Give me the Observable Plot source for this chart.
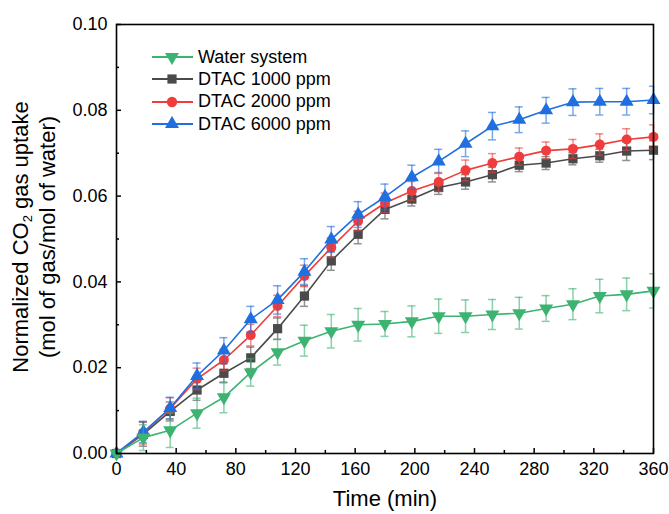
<!DOCTYPE html>
<html>
<head>
<meta charset="utf-8">
<script src="https://cdn.jsdelivr.net/npm/d3@7"></script>
<script src="https://cdn.jsdelivr.net/npm/@observablehq/plot@0.6"></script>
<style>
  html, body { margin: 0; padding: 0; background: #fff; }
  #wrap { position: relative; width: 669px; height: 514px; font-family: "Liberation Sans", Arial, sans-serif; color: #000; }
  #ytitle { position: absolute; left: 34px; top: 237px; width: 420px; transform: translate(-50%, -50%) rotate(-90deg); text-align: center; font-size: 22px; line-height: 27px; white-space: nowrap; }
  #ytitle sub { font-size: 13px; vertical-align: -4px; line-height: 0; }
  #xtitle { position: absolute; left: 385px; top: 499px; transform: translate(-50%, -50%); font-size: 22px; white-space: nowrap; }
  #legend { position: absolute; left: 150px; top: 46px; font-size: 18px; }
  #legend .row { display: flex; align-items: center; height: 22.3px; white-space: nowrap; }
  #legend svg { margin-right: 4px; }
</style>
</head>
<body>
<div id="wrap"></div>
<script>
// ---- data ----
const time = [0, 18, 36, 54, 72, 90, 108, 126, 144, 162, 180, 198, 216, 234, 252, 270, 288, 306, 324, 342, 360];

const water    = [0, 0.0037, 0.0054, 0.0094, 0.0131, 0.0189, 0.0236, 0.0263, 0.0285, 0.0300, 0.0302, 0.0308, 0.0320, 0.0320, 0.0324, 0.0327, 0.0338, 0.0348, 0.0367, 0.0371, 0.0379];
const waterErr = [0, 0.0030, 0.0040, 0.0035, 0.0036, 0.0032, 0.0030, 0.0036, 0.0039, 0.0038, 0.0029, 0.0036, 0.0040, 0.0038, 0.0035, 0.0037, 0.0030, 0.0036, 0.0039, 0.0038, 0.0040];

const dtac1000    = [0, 0.0045, 0.0098, 0.0148, 0.0187, 0.0223, 0.0291, 0.0367, 0.0449, 0.0511, 0.0569, 0.0593, 0.0620, 0.0633, 0.0650, 0.0672, 0.0677, 0.0687, 0.0694, 0.0705, 0.0707];
const dtac1000Err = [0, 0.0028, 0.0022, 0.0024, 0.0022, 0.0025, 0.0025, 0.0024, 0.0022, 0.0022, 0.0022, 0.0016, 0.0016, 0.0017, 0.0017, 0.0015, 0.0015, 0.0014, 0.0015, 0.0022, 0.0022];

const dtac2000    = [0, 0.0048, 0.0105, 0.0174, 0.0218, 0.0276, 0.0344, 0.0414, 0.0480, 0.0542, 0.0584, 0.0612, 0.0633, 0.0660, 0.0677, 0.0692, 0.0706, 0.0710, 0.0720, 0.0732, 0.0738];
const dtac2000Err = [0, 0.0026, 0.0025, 0.0025, 0.0025, 0.0025, 0.0025, 0.0025, 0.0023, 0.0023, 0.0023, 0.0022, 0.0022, 0.0024, 0.0022, 0.0020, 0.0020, 0.0022, 0.0025, 0.0025, 0.0028];

const dtac6000    = [0, 0.0050, 0.0106, 0.0181, 0.0240, 0.0313, 0.0358, 0.0424, 0.0499, 0.0557, 0.0598, 0.0644, 0.0681, 0.0722, 0.0763, 0.0778, 0.0800, 0.0819, 0.0820, 0.0820, 0.0824];
const dtac6000Err = [0, 0.0025, 0.0025, 0.0030, 0.0030, 0.0030, 0.0033, 0.0030, 0.0030, 0.0030, 0.0030, 0.0028, 0.0028, 0.0030, 0.0032, 0.0030, 0.0030, 0.0031, 0.0031, 0.0031, 0.0032];

const seriesNames = ["Water system", "DTAC 1000 ppm", "DTAC 2000 ppm", "DTAC 6000 ppm"];
const seriesColors = ["#3cb371", "#4a4a4a", "#f03c3c", "#1f6fe0"];
const seriesSymbols = ["triangle", "square", "circle", "triangle"];
const seriesRotate = [180, 0, 0, 0];

const xTicks = [0, 40, 80, 120, 160, 200, 240, 280, 320, 360];
const xMinorTicks = [20, 60, 100, 140, 180, 220, 260, 300, 340];
const yTicks = [0, 0.02, 0.04, 0.06, 0.08, 0.10];
const yMinorTicks = [0.01, 0.03, 0.05, 0.07, 0.09];

// ---- build ----
const values = [water, dtac1000, dtac2000, dtac6000];
const errors = [waterErr, dtac1000Err, dtac2000Err, dtac6000Err];
const rows = [];
values.forEach((vals, s) => {
  vals.forEach((v, i) => rows.push({series: s, t: time[i], v, lo: v - errors[s][i], hi: v + errors[s][i]}));
});
const drawOrder = [1, 2, 3, 0];
const capHalf = 2.7; // minutes

const marks = [];
for (const s of drawOrder) {
  const d = rows.filter(r => r.series === s);
  const c = seriesColors[s];
  marks.push(
    Plot.ruleX(d, {x: "t", y1: "lo", y2: "hi", stroke: c, strokeOpacity: 0.6, strokeWidth: 1.5}),
    Plot.ruleY(d, {y: "lo", x1: r => r.t - capHalf, x2: r => r.t + capHalf, stroke: c, strokeOpacity: 0.6, strokeWidth: 1.5, clip: true}),
    Plot.ruleY(d, {y: "hi", x1: r => r.t - capHalf, x2: r => r.t + capHalf, stroke: c, strokeOpacity: 0.6, strokeWidth: 1.5, clip: true}),
    Plot.line(d, {x: "t", y: "v", stroke: c, strokeWidth: 1.6}),
    Plot.dot(d, {x: "t", y: "v", symbol: seriesSymbols[s], rotate: seriesRotate[s], fill: c, stroke: "none", r: s === 2 ? 5 : 5.2})
  );
}

const chart = Plot.plot({
  width: 669,
  height: 514,
  marginLeft: 116,
  marginRight: 16,
  marginTop: 24,
  marginBottom: 61,
  style: {fontFamily: "'Liberation Sans', Arial, sans-serif", fontSize: "18px", color: "#000", background: "#fff"},
  x: {domain: [0, 360], label: null},
  y: {domain: [0, 0.10], label: null},
  marks: [
    ...marks,
    Plot.axisX({ticks: xTicks, tickSize: 0, tickPadding: 9, fontSize: 18, label: null}),
    Plot.axisX({ticks: xTicks, tickSize: -5, text: null, strokeWidth: 1.5, label: null}),
    Plot.axisX({ticks: xMinorTicks, tickSize: -3, text: null, strokeWidth: 1.5, label: null}),
    Plot.axisY({ticks: yTicks, tickSize: 0, tickPadding: 9, fontSize: 18, tickFormat: d3.format(".2f"), label: null}),
    Plot.axisY({ticks: yTicks, tickSize: -5, text: null, strokeWidth: 1.5, label: null}),
    Plot.axisY({ticks: yMinorTicks, tickSize: -3, text: null, strokeWidth: 1.5, label: null}),
    Plot.frame({stroke: "#000", strokeWidth: 1.6})
  ]
});

const wrap = document.getElementById("wrap");
wrap.appendChild(chart);

const yt = document.createElement("div");
yt.id = "ytitle";
yt.innerHTML = "Normalized CO<sub>2</sub> gas uptake<br>(mol of gas/mol of water)";
wrap.appendChild(yt);

const xt = document.createElement("div");
xt.id = "xtitle";
xt.textContent = "Time (min)";
wrap.appendChild(xt);

const leg = document.createElement("div");
leg.id = "legend";
seriesNames.forEach((name, s) => {
  const row = document.createElement("div");
  row.className = "row";
  const sym = d3.symbol(seriesSymbols[s] === "triangle" ? d3.symbolTriangle : seriesSymbols[s] === "square" ? d3.symbolSquare : d3.symbolCircle, Math.PI * 5.2 * 5.2)();
  row.innerHTML = `<svg width="44" height="16" viewBox="0 0 44 16"><line x1="2" x2="43" y1="8" y2="8" stroke="${seriesColors[s]}" stroke-width="1.8"/><path d="${sym}" transform="translate(22,8) rotate(${seriesRotate[s]})" fill="${seriesColors[s]}"/></svg><span>${name}</span>`;
  leg.appendChild(row);
});
wrap.appendChild(leg);
</script>
</body>
</html>
